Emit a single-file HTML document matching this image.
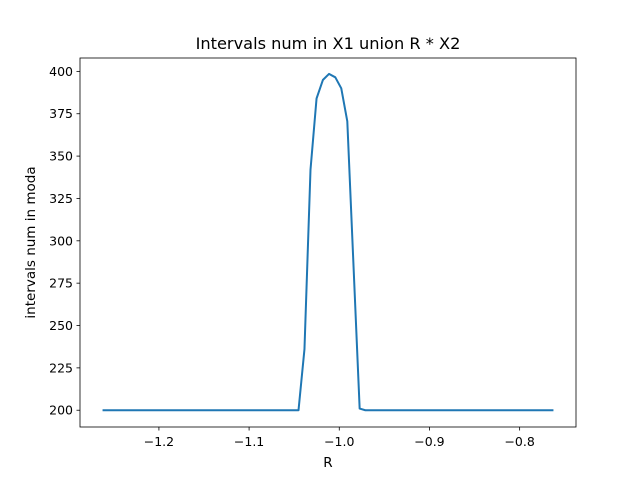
<!DOCTYPE html>
<html><head><meta charset="utf-8"><style>
body{margin:0;background:#fff;font-family:"Liberation Sans","DejaVu Sans",sans-serif;}
svg text{font-family:"DejaVu Sans","Liberation Sans",sans-serif;}
</style></head><body>
<svg id="c" width="640" height="480" viewBox="0 0 640 480" xmlns="http://www.w3.org/2000/svg">
<rect width="640" height="480" fill="#fff"/>
<text x="328" y="49" text-anchor="middle" font-size="16.2">Intervals num in X1 union R * X2</text>
<g id="ticks"></g>
<path id="line" fill="none" stroke="#1f77b4" stroke-width="2" stroke-linejoin="round"/>
<rect x="80" y="58" width="496" height="369" fill="none" stroke="#000" stroke-width="0.8"/>
<text x="328" y="467" text-anchor="middle" font-size="13.5">R</text>
<text transform="translate(35,242.5) rotate(-90)" text-anchor="middle" font-size="13.5">intervals num in moda</text>
</svg>
<script>
const xValues=[-1.2625,-1.0452,-1.0386,-1.0319,-1.0252,-1.0181,-1.0114,-1.0044,-0.9978,-0.9911,-0.9774,-0.9711,-0.7625];
const yValues=[200,200,236,342,384,395,398.5,396.5,390,370.5,201,200,200];
const xTicks=[-1.2,-1.1,-1.0,-0.9,-0.8];
const xTickLabels=["−1.2","−1.1","−1.0","−0.9","−0.8"];
const yTicks=[200,225,250,275,300,325,350,375,400];
const L=80,R=576,T=58,B=427;
const xmin=-1.2875,xmax=-0.7375,ymin=190.1,ymax=407.9;
const sx=v=>L+(v-xmin)/(xmax-xmin)*(R-L);
const sy=v=>B-(v-ymin)/(ymax-ymin)*(B-T);
const NS="http://www.w3.org/2000/svg";
const g=document.getElementById('ticks');
function mk(t,a){const e=document.createElementNS(NS,t);for(const k in a)e.setAttribute(k,a[k]);g.appendChild(e);return e;}
xTicks.forEach((v,i)=>{const x=sx(v);
const l=mk('line',{x1:x,x2:x,y1:B,y2:B+3.5,stroke:'#000','stroke-width':0.8});


const t=mk('text',{x:x,y:B+19,'text-anchor':'middle','font-size':12.5});t.textContent=xTickLabels[i];

});
yTicks.forEach(v=>{const y=sy(v);
const l=mk('line',{x1:L-3.5,x2:L,y1:y,y2:y,stroke:'#000','stroke-width':0.8});


const t=mk('text',{x:L-7,y:y+4.5,'text-anchor':'end','font-size':12.5});t.textContent=v;

});
document.getElementById('line').setAttribute('d',xValues.map((v,i)=>(i?'L':'M')+sx(v).toFixed(2)+','+sy(yValues[i]).toFixed(2)).join(''));
</script>
</body></html>
